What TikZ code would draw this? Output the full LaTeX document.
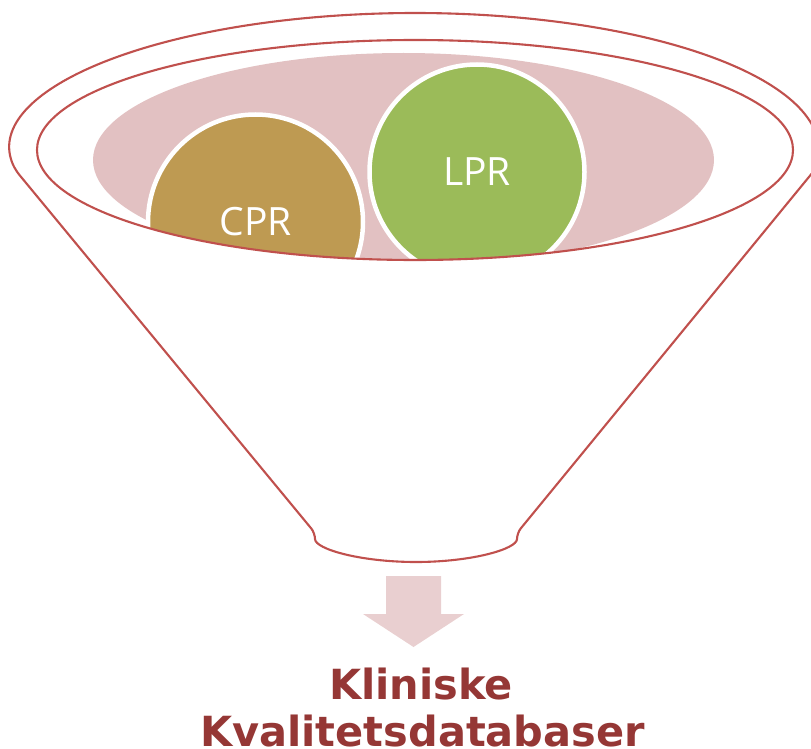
\documentclass[tikz,border=0pt]{standalone}
\usepackage{fontspec}
\usepackage{tikz}
\newfontfamily\regfont{Open Sans}
\newfontfamily\titlefont{DejaVu Sans}
\definecolor{rimred}{HTML}{C0504D}
\definecolor{bowlpink}{HTML}{E2C1C2}
\definecolor{cprtan}{HTML}{BE9A52}
\definecolor{lprgreen}{HTML}{9BBB59}
\definecolor{arrowpink}{HTML}{E9CFD0}
\definecolor{titlered}{HTML}{953735}

\begin{document}
\begin{tikzpicture}[x=1pt, y=-1pt, rim/.style = {draw=rimred, line width=2.1pt},
    reg/.style = {draw=white, line width=4.5pt, circle, minimum size=215pt, text=white, font=\regfont\fontsize{39}{39}\selectfont},
    title/.style = {text=titlered, anchor=base, inner sep=0pt, font=\titlefont\bfseries\fontsize{41.5}{47}\selectfont}]
\useasboundingbox (0,0) rectangle (811,749);

% funnel
\draw[rim] (415,150) ++(171.6:404 and 137) arc[start angle=171.6, end angle=368.4, x radius=404, y radius=137]
    [rounded corners=6pt] -- (517,533) arc[start angle=0, end angle=180, x radius=101, y radius=29] -- cycle;

\begin{scope}
    \clip (415,150) ellipse[x radius=378, y radius=110];
    \fill[bowlpink] (403.5,160) ellipse[x radius=310.5, y radius=107];
    \node[reg, fill=cprtan] (cpr) at (255.5,222) {CPR};
    \node[reg, fill=lprgreen] (lpr) at (477,172) {LPR};
\end{scope}
\draw[rim] (415,150) ellipse[x radius=378, y radius=110];

% arrow
\fill[arrowpink] (386,576) -- (441,576) -- (441,614) -- (464,614) -- (413.5,647) -- (363,614) -- (386,614) -- cycle;

\node[title] (kliniske) at (421,699) {Kliniske};
\node[title] (kvalitet) at (422.5,746) {Kvalitetsdatabaser};

\end{tikzpicture}
\end{document}
